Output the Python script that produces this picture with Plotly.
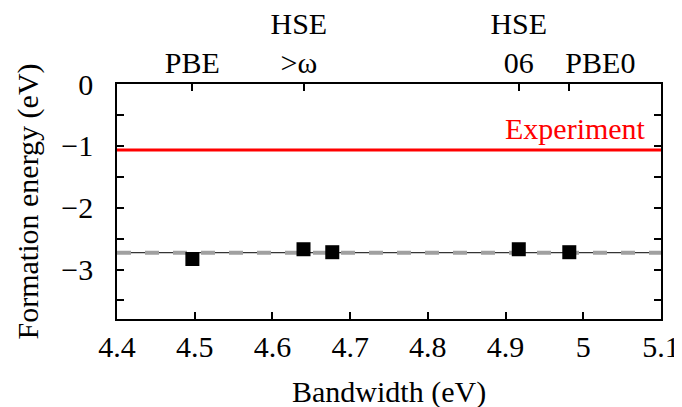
import plotly.graph_objects as go

# Data
bandwidth = [4.497, 4.640, 4.677, 4.917, 4.982]
formation_energy = [-2.83, -2.672, -2.72, -2.672, -2.72]
experiment_value = -1.066
mean_value = -2.728
x_range = [4.4, 5.1]
y_range = [-3.8, 0]
x_tick_vals = [4.4, 4.5, 4.6, 4.7, 4.8, 4.9, 5.0, 5.1]
x_tick_text = ["4.4", "4.5", "4.6", "4.7", "4.8", "4.9", "5", "5.1"]
top_tick_vals = [4.497, 4.640, 4.917, 4.982]
top_label_vals = [4.497, 4.634, 4.917, 5.022]
top_label_lower = ["PBE", ">ω", "06", "PBE0"]
top_label_upper = ["", "HSE", "HSE", ""]
y_tick_vals = [0, -1, -2, -3]
y_minor_vals = [-0.5, -1.5, -2.5, -3.5]
experiment_label = "Experiment"
x_title = "Bandwidth (eV)"
y_title = "Formation energy (eV)"

FONT = "'Liberation Serif', 'Times New Roman', Times, 'DejaVu Serif', serif"
FS = 30

fig = go.Figure()

# black thin mean line
fig.add_trace(go.Scatter(x=x_range, y=[mean_value, mean_value], mode="lines",
                         line=dict(color="black", width=1), showlegend=False, hoverinfo="skip"))
# gray dashed line
fig.add_trace(go.Scatter(x=x_range, y=[mean_value, mean_value], mode="lines",
                         line=dict(color="#a0a0a0", width=4, dash="14px,14px"),
                         showlegend=False, hoverinfo="skip"))
# experiment line
fig.add_trace(go.Scatter(x=x_range, y=[experiment_value, experiment_value], mode="lines",
                         line=dict(color="#ff0000", width=3), showlegend=False, hoverinfo="skip"))
# data points
fig.add_trace(go.Scatter(x=bandwidth, y=formation_energy, mode="markers",
                         marker=dict(symbol="square", size=14, color="black",
                                     line=dict(width=0)),
                         showlegend=False))
# invisible traces for the top axes
for ax in ["x2", "x3", "x4"]:
    fig.add_trace(go.Scatter(x=x_range, y=[None, None], xaxis=ax, mode="markers",
                             showlegend=False, hoverinfo="skip"))

fig.add_annotation(x=x_range[1], y=experiment_value, xref="x", yref="y",
                   text=experiment_label, showarrow=False, xanchor="right", yanchor="bottom",
                   xshift=-13, yshift=3,
                   font=dict(family=FONT, size=FS, color="#ff0000"))
# axis titles
fig.add_annotation(x=0.5, y=0, xref="paper", yref="paper", text=x_title, showarrow=False,
                   xanchor="center", yanchor="middle", yshift=-73,
                   font=dict(family=FONT, size=FS, color="black"))
fig.add_annotation(x=0, y=0.5, xref="paper", yref="paper", text=y_title, showarrow=False,
                   textangle=-90, xanchor="center", yanchor="middle", xshift=-90,
                   font=dict(family=FONT, size=FS, color="black"))

tickfont = dict(family=FONT, size=FS, color="black")
axis_common = dict(showgrid=False, zeroline=False, showline=True, linecolor="black",
                   linewidth=1.5, ticks="inside", ticklen=7, tickcolor="black", tickwidth=1.5,
                   automargin=False, tickangle=0, tickfont=tickfont,
                   ticklabeloverflow="allow")
label_axis = dict(range=x_range, overlaying="x", side="top", tickmode="array",
                  showline=False, ticks="", showgrid=False, zeroline=False,
                  automargin=False, tickangle=0, tickfont=tickfont,
                  ticklabeloverflow="allow")

fig.update_layout(
    width=674, height=399,
    margin=dict(l=109, r=21, t=76, b=88, pad=0),
    paper_bgcolor="white", plot_bgcolor="white",
    font=dict(family=FONT, size=FS, color="black"),
    xaxis=dict(range=x_range, tickmode="array", tickvals=x_tick_vals, ticktext=x_tick_text,
               mirror=True, ticklabelstandoff=0, **axis_common),
    xaxis2=dict(range=x_range, overlaying="x", side="top", tickmode="array",
                tickvals=top_tick_vals, showticklabels=False, **axis_common),
    xaxis3=dict(tickvals=top_label_vals, ticktext=top_label_lower, ticklabelstandoff=4,
                **label_axis),
    xaxis4=dict(tickvals=top_label_vals, ticktext=top_label_upper, ticklabelstandoff=43,
                **label_axis),
    yaxis=dict(range=y_range, tickmode="array", tickvals=y_tick_vals, mirror="ticks",
               minor=dict(ticks="inside", ticklen=7, tickcolor="black", tickwidth=1.5,
                          tickmode="array", tickvals=y_minor_vals),
               ticklabelstandoff=16, **axis_common),
)

fig.write_html("out.html")
